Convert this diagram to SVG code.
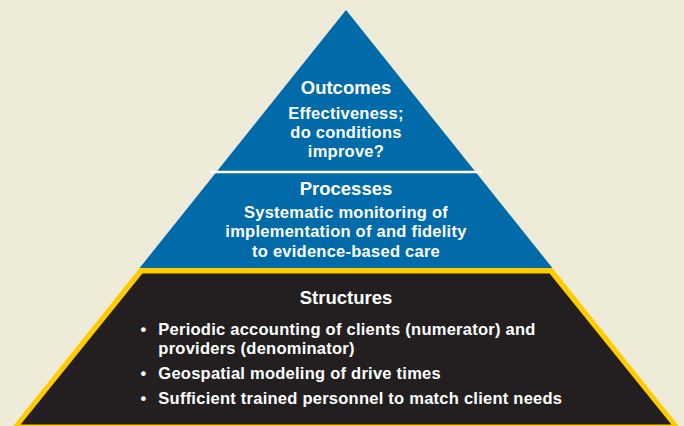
<svg xmlns="http://www.w3.org/2000/svg" width="684" height="426" viewBox="0 0 684 426">
<style>
.t{font-family:"Liberation Sans",Arial,sans-serif;font-weight:bold;fill:#ffffff;text-anchor:middle}
.h{font-size:18.5px}
.b{font-size:16.5px;letter-spacing:0.25px}
.l{text-anchor:start}
</style>
<rect width="684" height="426" fill="#EEECD9"/>
<g id="outcomes">
<polygon points="346,10 216.4,172 475.6,172" fill="#006BA8"/>
<text class="t h" x="346" y="94.3">Outcomes</text>
<text class="t b" x="346" y="119.3">Effectiveness;</text>
<text class="t b" x="346" y="138.3">do conditions</text>
<text class="t b" x="346" y="157.3">improve?</text>
</g>
<g id="processes">
<polygon points="216.4,172 475.6,172 552.4,268 139.6,268" fill="#006BA8"/>
<text class="t h" x="346" y="195">Processes</text>
<text class="t b" x="346" y="218">Systematic monitoring of</text>
<text class="t b" x="346" y="237">implementation of and fidelity</text>
<text class="t b" x="346" y="256.5">to evidence-based care</text>
</g>
<line x1="210" y1="172" x2="482" y2="172" stroke="#ffffff" stroke-width="2.5"/>
<g id="structures">
<polygon points="139.6,268 552.4,268 678.8,426 13.2,426" fill="#FFCC00"/>
<polygon points="142.4,273.5 549.6,273.5 671.4,424.6 20.6,424.6" fill="#231F20"/>
<text class="t h" x="346" y="304">Structures</text>
<text class="t b" x="143.5" y="335">•</text>
<text class="t b l" x="158.3" y="335">Periodic accounting of clients (numerator) and</text>
<text class="t b l" x="158.3" y="354">providers (denominator)</text>
<text class="t b" x="143.5" y="379.3">•</text>
<text class="t b l" x="158.3" y="379.3">Geospatial modeling of drive times</text>
<text class="t b" x="143.5" y="404">•</text>
<text class="t b l" x="158.3" y="404">Sufficient trained personnel to match client needs</text>
</g>
</svg>
